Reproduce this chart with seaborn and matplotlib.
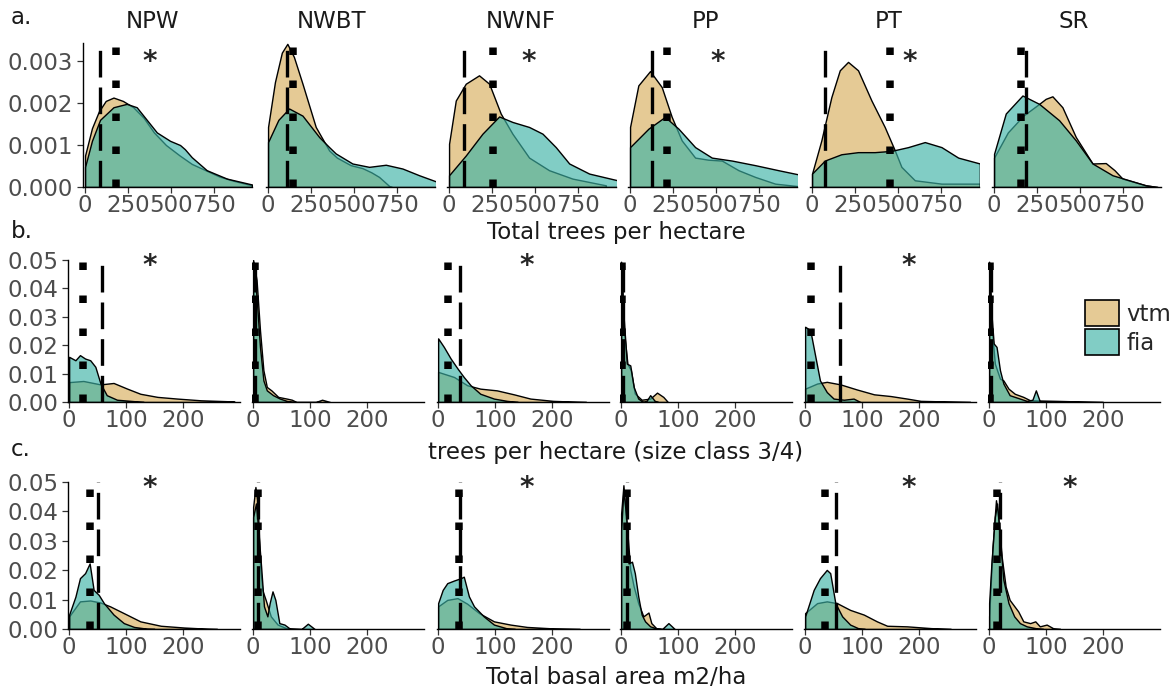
import matplotlib
matplotlib.use("Agg")
import matplotlib.pyplot as plt
import seaborn as sns
from matplotlib.patches import Patch

regions = ["NPW", "NWBT", "NWNF", "PP", "PT", "SR"]

# ---- a. total trees per hectare (density curves) ----
tph_vtm = {
    "NPW": ([0, 40, 80, 120, 165, 220, 280, 340, 400, 470, 550, 620, 700, 780, 860, 970],
            [.00075, .0014, .0018, .00205, .00213, .00205, .0019, .00165, .0013, .001, .00075, .00055, .0004, .00025, .00015, .00004]),
    "NWBT": ([0, 40, 80, 112, 150, 200, 277, 355, 400, 480, 548, 600, 645, 705, 720],
             [.00143, .0025, .0032, .00341, .0031, .00246, .00143, .00087, .0007, .00052, .00045, .00035, .00024, .00002, 0]),
    "NWNF": ([0, 39, 97, 174, 233, 300, 368, 465, 581, 717, 911],
             [.00103, .00206, .00246, .00266, .00246, .00175, .00127, .0007, .0004, .0002, .00004]),
    "PP": ([0, 48, 116, 184, 242, 300, 378, 455, 533, 630, 727, 843, 979],
           [.00143, .00242, .00276, .00238, .00167, .00111, .0007, .00065, .00063, .0004, .00024, .00008, .00002]),
    "PT": ([0, 54, 112, 161, 209, 267, 345, 422, 481, 519, 597, 752, 975],
           [.00032, .00111, .00214, .00278, .00298, .00278, .00206, .00143, .00087, .00048, .00016, .00008, .00008]),
    "SR": ([0, 80, 170, 262, 300, 339, 397, 475, 572, 649, 700, 746, 882, 950],
           [.0007, .0013, .0017, .00198, .0021, .00216, .0019, .00119, .00056, .00057, .0004, .0002, .00004, 0]),
}
tph_fia = {
    "NPW": ([0, 40, 87, 165, 242, 300, 339, 417, 494, 552, 580, 620, 707, 824, 970],
            [.00048, .0011, .0016, .0019, .00198, .0019, .0017, .0013, .0011, .001, .0009, .00071, .0004, .0002, .00006]),
    "NWBT": ([0, 60, 122, 200, 297, 355, 393, 490, 587, 684, 781, 878, 985],
             [.00107, .0016, .00187, .0017, .00119, .00095, .0008, .00056, .00048, .00053, .00044, .00028, .00012]),
    "NWNF": ([0, 97, 194, 291, 368, 465, 543, 620, 698, 814, 979],
             [.00028, .00075, .00127, .00168, .00155, .00143, .00127, .00095, .00056, .00032, .00016]),
    "PP": ([0, 107, 203, 281, 378, 475, 591, 727, 862, 979],
           [.00095, .00139, .00167, .00139, .00095, .0007, .00063, .00052, .0004, .0003]),
    "PT": ([0, 74, 170, 267, 364, 461, 558, 655, 752, 849, 975],
           [.00032, .00063, .00078, .00083, .00083, .00086, .00095, .00107, .00095, .0007, .00056]),
    "SR": ([0, 68, 165, 262, 378, 475, 572, 688, 785, 882, 950],
           [.00079, .00175, .00218, .00198, .00159, .00111, .00056, .00028, .00016, .00004, 0]),
}
tph_med_vtm = {"NPW": 87, "NWBT": 110, "NWNF": 87, "PP": 130, "PT": 78, "SR": 184}
tph_med_fia = {"NPW": 178, "NWBT": 143, "NWNF": 256, "PP": 213, "PT": 452, "SR": 155}
tph_stars = {"NPW": 378, "NWNF": 461, "PP": 510, "PT": 568}

# ---- b. trees per hectare, size class 3/4 ----
big_vtm = {
    "NPW": ([0, 25, 55, 78, 102, 125, 155, 190, 231, 290],
            [.007, .0074, .0062, .0067, .0047, .0029, .0018, .0012, .0006, .0002]),
    "NWBT": ([0, 6, 12, 18, 24, 32, 44, 59, 68, 76, 110, 121, 135],
             [.05, .043, .0253, .0112, .0053, .0041, .0018, .0012, .0008, 0, 0, .0008, 0]),
    "NWNF": ([0, 28, 51, 74, 103, 133, 162, 202, 243, 260],
             [.0106, .0088, .0059, .0047, .0041, .0027, .0012, .0004, .0001, 0]),
    "PP": ([0, 5, 11, 17, 24, 36, 51, 63, 74, 82],
           [.049, .025, .0135, .0112, .003, .0008, .0012, .0033, .0018, 0]),
    "PT": ([0, 21, 38, 62, 91, 121, 150, 179, 203, 268, 290],
           [.0047, .0065, .0071, .0062, .0044, .0027, .0021, .0012, .0004, .0001, 0]),
    "SR": ([0, 5, 10, 19, 25, 34, 45, 60, 72, 119, 178, 200],
           [.049, .025, .0135, .0082, .0076, .0047, .0029, .0018, .0006, .0004, .0001, 0]),
}
big_fia = {
    "NPW": ([0, 11, 19, 28, 37, 46, 55, 66, 84, 108, 131],
            [.0159, .0147, .0165, .0153, .0147, .0124, .0065, .0024, .0008, .0004, 0]),
    "NWBT": ([0, 6, 12, 18, 24, 35, 47, 59, 71],
             [.0494, .037, .0194, .0076, .0041, .0024, .0012, .0004, 0]),
    "NWNF": ([0, 10, 22, 34, 45, 57, 74, 98, 121, 140],
             [.0224, .0194, .0153, .0118, .0088, .0059, .0029, .0012, .0004, 0]),
    "PP": ([0, 4, 10, 16, 22, 30, 39, 45, 51, 59, 65],
           [.0494, .031, .0135, .0129, .0053, .0012, 0, .0005, .0024, .0004, 0]),
    "PT": ([0, 9, 18, 26, 38, 50, 68, 85, 97],
           [.0265, .0253, .0159, .0076, .0035, .0012, .0008, .0012, 0]),
    "SR": ([0, 4, 8, 13, 19, 25, 36, 54, 66, 76, 82, 89, 95],
           [.0494, .031, .0206, .0194, .0112, .0065, .0024, .0012, .0004, .0008, .0041, .0002, 0]),
}
big_med_vtm = {"NPW": 58, "NWBT": 4, "NWNF": 38, "PP": 3, "PT": 62, "SR": 3}
big_med_fia = {"NPW": 25, "NWBT": 3, "NWNF": 17, "PP": 2, "PT": 10, "SR": 2}
big_stars = {"NPW": 142, "NWNF": 155, "PT": 182}

# ---- c. total basal area m2/ha ----
ba_vtm = {
    "NPW": ([0, 19, 37, 55, 72, 96, 125, 161, 202, 243, 260],
            [.0043, .0094, .0097, .009, .0077, .0054, .0026, .0011, .0005, .0001, 0]),
    "NWBT": ([0, 4, 8, 12, 16, 22, 31, 43, 58, 64],
             [.0415, .0483, .0427, .0223, .0133, .0099, .0043, .0015, .0003, 0]),
    "NWNF": ([0, 16, 34, 51, 72, 98, 127, 156, 202, 249],
             [.0077, .0099, .0105, .0086, .0054, .0026, .0015, .0007, .0002, 0]),
    "PP": ([0, 4, 8, 12, 16, 22, 30, 39, 48, 53, 62, 70],
           [.0393, .0489, .0393, .0302, .0201, .0145, .0088, .0043, .0056, .002, .0002, 0]),
    "PT": ([0, 21, 38, 56, 79, 103, 126, 144, 179, 221, 256],
           [.0054, .0088, .0094, .0088, .0065, .0049, .0026, .0011, .0009, .0003, 0]),
    "SR": ([0, 6, 12, 16, 22, 29, 36, 51, 60, 72, 81, 89, 101, 113, 125],
           [.0043, .028, .0438, .0381, .0246, .0144, .0099, .006, .0026, .002, .0026, .0009, .0015, .0002, 0]),
}
ba_fia = {
    "NPW": ([0, 11, 19, 28, 36, 43, 52, 61, 78, 96, 114, 137, 150],
            [.0049, .011, .0173, .019, .0223, .0133, .0116, .0088, .0049, .002, .0007, .0001, 0]),
    "NWBT": ([0, 5, 9, 14, 19, 25, 29, 34, 39, 46, 55, 64, 85, 96, 108],
             [.0381, .0427, .0336, .0212, .0077, .0043, .0088, .0128, .0099, .002, .0015, .0002, 0, .0018, 0]),
    "NWNF": ([0, 8, 16, 28, 40, 45, 54, 63, 80, 98, 121, 135],
             [.0088, .0133, .0156, .0165, .0173, .0178, .0111, .0077, .0043, .0015, .0002, 0]),
    "PP": ([0, 4, 9, 13, 19, 24, 30, 36, 42, 51, 62, 72, 83, 94],
           [.0336, .0472, .0381, .0223, .0229, .019, .0111, .0049, .0026, .0009, .0002, 0, .002, 0]),
    "PT": ([0, 15, 26, 38, 44, 53, 65, 79, 94, 105],
           [.0043, .0133, .0173, .0201, .019, .0088, .0043, .0015, .0002, 0]),
    "SR": ([0, 4, 10, 14, 19, 25, 34, 44, 54, 66, 84, 95],
           [.0088, .0223, .0381, .0427, .0302, .0167, .0088, .0043, .002, .0009, .0002, 0]),
}
ba_med_vtm = {"NPW": 51, "NWBT": 8, "NWNF": 39, "PP": 10, "PT": 55, "SR": 19}
ba_med_fia = {"NPW": 36, "NWBT": 9, "NWNF": 37, "PP": 11, "PT": 35, "SR": 14}
ba_stars = {"NPW": 142, "NWNF": 155, "PT": 182, "SR": 141}

# ---- figure layout (pixels) ----
W, H = 1173, 691
VTM = (0.847, 0.682, 0.361, 0.65)
FIA = (0.239, 0.702, 0.651, 0.65)
GREY = "#4D4D4D"

sns.set_theme(style="ticks")
plt.rcParams["font.family"] = ["DejaVu Sans"]

fig = plt.figure(figsize=(W / 100, H / 100), dpi=100)

rows = [
    dict(vtm=tph_vtm, fia=tph_fia, mv=tph_med_vtm, mf=tph_med_fia, stars=tph_stars,
         top=43, bottom=187, lefts=[83, 266, 447, 628, 810, 992], width=169,
         xlim=(-12, 970), ylim=(0, 0.00343), xticks=[0, 250, 500, 750],
         yticks=[0, .001, .002, .003], yfmt="{:.3f}", star_y=0.00317,
         xlabel="Total trees per hectare", xlabel_y=232, tag="a.", tag_y=17),
    dict(vtm=big_vtm, fia=big_fia, mv=big_med_vtm, mf=big_med_fia, stars=big_stars,
         top=260, bottom=402, lefts=[68, 252, 437, 620, 804, 988], width=172,
         xlim=(-2, 300), ylim=(0, 0.05), xticks=[0, 100, 200],
         yticks=[0, .01, .02, .03, .04, .05], yfmt="{:.2f}", star_y=0.0506,
         xlabel="trees per hectare (size class 3/4)", xlabel_y=452, tag="b.", tag_y=231),
    dict(vtm=ba_vtm, fia=ba_fia, mv=ba_med_vtm, mf=ba_med_fia, stars=ba_stars,
         top=482, bottom=629, lefts=[68, 252, 437, 620, 804, 988], width=172,
         xlim=(-2, 300), ylim=(0, 0.05), xticks=[0, 100, 200],
         yticks=[0, .01, .02, .03, .04, .05], yfmt="{:.2f}", star_y=0.0506,
         xlabel="Total basal area m2/ha", xlabel_y=678, tag="c.", tag_y=450),
]
title_x = [152, 332, 521, 705, 889, 1074]

for r in rows:
    for i, reg in enumerate(regions):
        left = r["lefts"][i]
        ax = fig.add_axes([left / W, 1 - r["bottom"] / H, r["width"] / W, (r["bottom"] - r["top"]) / H])
        for src, col in ((r["vtm"], VTM), (r["fia"], FIA)):
            xs, ys = src[reg]
            ax.fill_between(xs, ys, 0, facecolor=col, edgecolor="black", linewidth=1.0)
        ax.axvline(r["mv"][reg], color="black", lw=2.4, ls=(0, (8, 3)), zorder=3)
        ax.axvline(r["mf"][reg], color="black", lw=5.4, ls=(0, (1, 3.4)), zorder=3)
        if reg in r["stars"]:
            ax.annotate("*", xy=(r["stars"][reg], r["star_y"]), xytext=(0, -11.5),
                        textcoords="offset points", ha="center", va="baseline",
                        fontsize=20, fontweight="bold", annotation_clip=False)
        ax.set_xlim(*r["xlim"])
        ax.set_ylim(*r["ylim"])
        ax.set_xticks(r["xticks"])
        ax.set_xticklabels([str(t) for t in r["xticks"]])
        ax.tick_params(axis="both", length=4, width=0.9, color="#333333",
                       labelsize=16.5, labelcolor=GREY, pad=1)
        ax.tick_params(axis="y", pad=3)
        ax.set_facecolor("none")
        if i == 0:
            ax.set_yticks(r["yticks"])
            ax.set_yticklabels([r["yfmt"].format(t) for t in r["yticks"]])
            sns.despine(ax=ax)
        else:
            ax.set_yticks([])
            sns.despine(ax=ax, left=True)
        for s in ("left", "bottom"):
            ax.spines[s].set_linewidth(1.0)
            ax.spines[s].set_color("black")
    fig.text(616 / W, 1 - r["xlabel_y"] / H, r["xlabel"], ha="center", va="center",
             fontsize=16.5, color="#1A1A1A")
    fig.text(11 / W, 1 - r["tag_y"] / H, r["tag"], ha="left", va="center",
             fontsize=16.5, color="#1A1A1A")

for reg, tx in zip(regions, title_x):
    fig.text(tx / W, 1 - 21 / H, reg, ha="center", va="center", fontsize=16.5, color="#1A1A1A")

handles = [Patch(facecolor=VTM, edgecolor="black", linewidth=1.2),
           Patch(facecolor=FIA, edgecolor="black", linewidth=1.2)]
fig.legend(handles, ["vtm", "fia"], loc="upper left", bbox_to_anchor=(1085 / W, 1 - 300 / H),
           frameon=False, fontsize=16.5, handlelength=1.5, handleheight=1.4,
           handletextpad=0.3, labelspacing=0.1, borderpad=0, borderaxespad=0)

fig.savefig("out.png", dpi=100)
